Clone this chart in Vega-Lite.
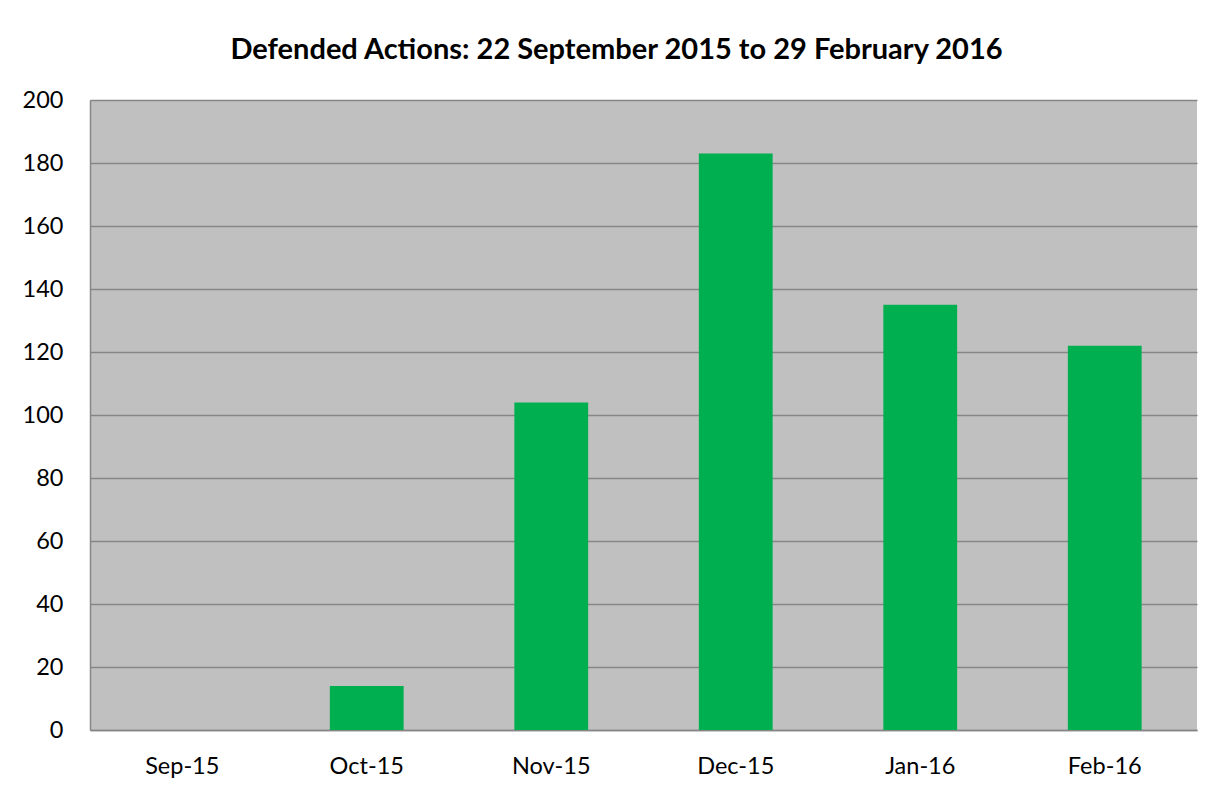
{
  "$schema": "https://vega.github.io/schema/vega-lite/v6.json",
  "autosize": "none",
  "width": 1107,
  "height": 630,
  "padding": {"left": 90, "top": 100, "right": 20, "bottom": 61},
  "background": "white",
  "title": {
    "text": "Defended Actions: 22 September 2015 to 29 February 2016",
    "font": "Lato",
    "fontSize": 29,
    "fontWeight": "bold",
    "color": "black",
    "anchor": "middle",
    "baseline": "alphabetic",
    "dx": -27,
    "offset": 0
  },
  "data": {
    "values": [
      {"month": "Sep-15", "count": 0},
      {"month": "Oct-15", "count": 14},
      {"month": "Nov-15", "count": 104},
      {"month": "Dec-15", "count": 183},
      {"month": "Jan-16", "count": 135},
      {"month": "Feb-16", "count": 122}
    ]
  },
  "mark": {"type": "bar", "color": "#00B050"},
  "encoding": {
    "x": {
      "field": "month",
      "type": "nominal",
      "sort": null,
      "scale": {"paddingInner": 0.6, "paddingOuter": 0.3},
      "axis": {
        "title": null,
        "labelAngle": 0,
        "labelFont": "Lato",
        "labelFontSize": 23.5,
        "labelColor": "black",
        "labelPadding": 24,
        "ticks": false,
        "domainColor": "#868686",
        "domainWidth": 1.5
      }
    },
    "y": {
      "field": "count",
      "type": "quantitative",
      "scale": {"domain": [0, 200], "nice": false},
      "axis": {
        "title": null,
        "values": [0, 20, 40, 60, 80, 100, 120, 140, 160, 180, 200],
        "labelFont": "Lato",
        "labelFontSize": 23.5,
        "labelColor": "black",
        "labelPadding": 27,
        "ticks": false,
        "domainColor": "#868686",
        "domainWidth": 1.5,
        "gridColor": "#868686",
        "gridWidth": 1.5,
        "gridOpacity": 1
      }
    }
  },
  "config": {
    "view": {"fill": "#C0C0C0", "stroke": null}
  }
}
